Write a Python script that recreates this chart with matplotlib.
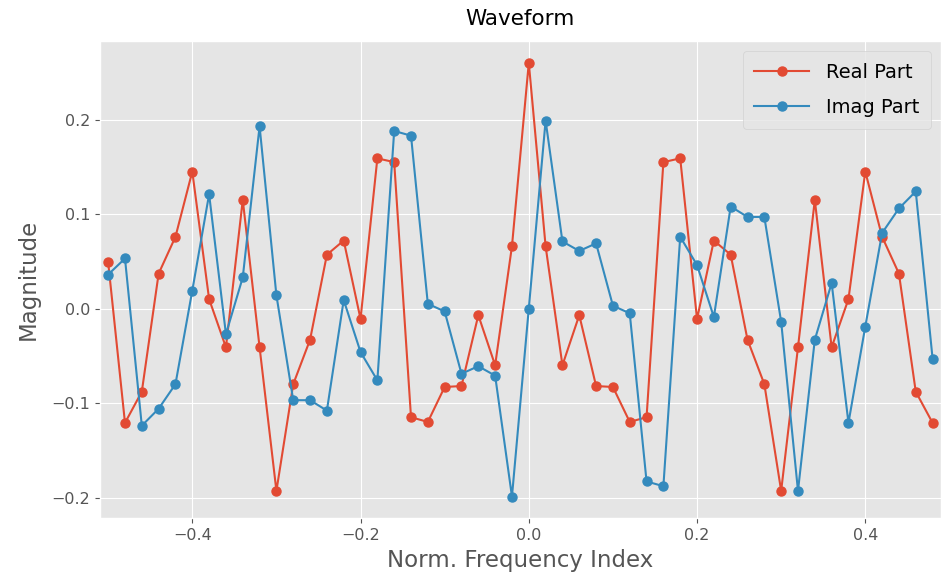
import numpy as np
import matplotlib
matplotlib.use("Agg")
import matplotlib.pyplot as plt

plt.style.use("ggplot")

# normalised frequency bins, -0.5 .. 0.48
freqs = np.arange(-25, 25) / 50.0

real_part = [0.049, -0.121, -0.088, 0.037, 0.076, 0.145, 0.010, -0.041, 0.115, -0.041,
             -0.193, -0.080, -0.033, 0.057, 0.072, -0.011, 0.159, 0.155, -0.115, -0.120,
             -0.083, -0.082, -0.007, -0.060, 0.066, 0.260, 0.066, -0.060, -0.007, -0.082,
             -0.083, -0.120, -0.115, 0.155, 0.159, -0.011, 0.072, 0.057, -0.033, -0.080,
             -0.193, -0.041, 0.115, -0.041, 0.010, 0.145, 0.076, 0.037, -0.088, -0.121]

imag_part = [0.036, 0.053, -0.124, -0.106, -0.080, 0.019, 0.121, -0.027, 0.033, 0.193,
             0.014, -0.097, -0.097, -0.108, 0.009, -0.046, -0.076, 0.188, 0.183, 0.005,
             -0.003, -0.069, -0.061, -0.071, -0.199, 0.000, 0.199, 0.071, 0.061, 0.069,
             0.003, -0.005, -0.183, -0.188, 0.076, 0.046, -0.009, 0.108, 0.097, 0.097,
             -0.014, -0.193, -0.033, 0.027, -0.121, -0.019, 0.080, 0.106, 0.124, -0.053]

fig = plt.figure(figsize=(9.41, 5.81), dpi=100)
ax = fig.add_axes([0.106, 0.108, 0.894, 0.821])

ax.plot(freqs, real_part, "o-", label="Real Part", markersize=6.5, linewidth=1.5)
ax.plot(freqs, imag_part, "o-", label="Imag Part", markersize=6.5, linewidth=1.5)

ax.set_xlim(freqs[0] - 0.01, freqs[-1] + 0.01)
ax.set_title("Waveform", fontsize=15.5, pad=12)
ax.set_xlabel("Norm. Frequency Index", fontsize=16.5, labelpad=4)
ax.set_ylabel("Magnitude", fontsize=16.5, labelpad=8)
ax.tick_params(labelsize=11.5)
ax.legend(loc="upper right", fontsize=14, handlelength=2.8, borderpad=0.6,
          labelspacing=0.85, handletextpad=0.9)

fig.savefig("out.png", dpi=100)
plt.close(fig)
